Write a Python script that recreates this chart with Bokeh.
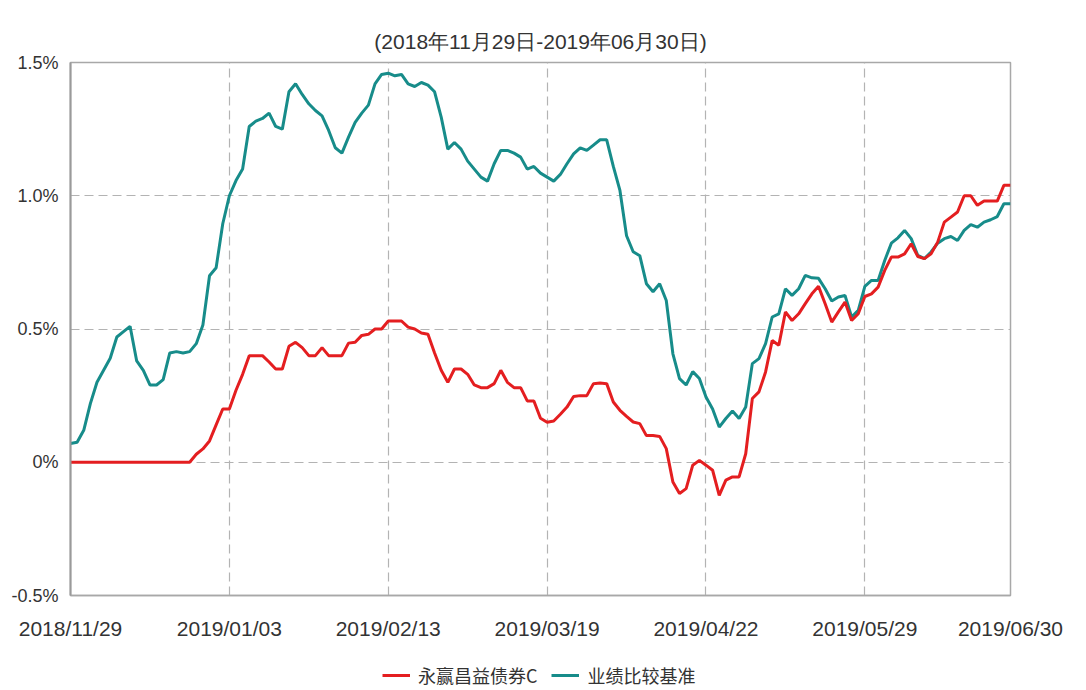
from bokeh.plotting import figure
from bokeh.layouts import column
from bokeh.models import FixedTicker, Legend, LegendItem, Range1d
from bokeh.embed import file_html
from bokeh.resources import INLINE

title_text = "(2018年11月29日-2019年06月30日)"
series_names = ["永赢昌益债券C", "业绩比较基准"]

tick_idx = [0, 24, 48, 72, 96, 120, 142]
tick_labels = ["2018/11/29", "2019/01/03", "2019/02/13", "2019/03/19",
               "2019/04/22", "2019/05/29", "2019/06/30"]

y_ticks = [-0.5, 0.0, 0.5, 1.0, 1.5]
y_tick_labels = ["-0.5%", "0%", "0.5%", "1.0%", "1.5%"]

# 永赢昌益债券C cumulative return (%)
fund = [
    0, 0, 0, 0, 0, 0, 0, 0, 0, 0,
    0, 0, 0, 0, 0, 0, 0, 0, 0, 0.03,
    0.05, 0.08, 0.14, 0.20, 0.20, 0.27, 0.33, 0.40, 0.40, 0.40,
    0.376, 0.35, 0.35, 0.435, 0.45, 0.43, 0.40, 0.40, 0.43, 0.40,
    0.40, 0.40, 0.447, 0.45, 0.476, 0.48, 0.50, 0.50, 0.53, 0.53,
    0.53, 0.507, 0.50, 0.485, 0.48, 0.41, 0.345, 0.30, 0.35, 0.35,
    0.33, 0.29, 0.28, 0.28, 0.295, 0.345, 0.30, 0.28, 0.28, 0.23,
    0.23, 0.165, 0.15, 0.155, 0.18, 0.207, 0.247, 0.25, 0.25, 0.295,
    0.297, 0.295, 0.226, 0.195, 0.172, 0.151, 0.145, 0.10, 0.10, 0.097,
    0.051, -0.074, -0.117, -0.099, -0.011, 0.007, -0.011, -0.03, -0.124, -0.067,
    -0.055, -0.055, 0.032, 0.239, 0.264, 0.339, 0.457, 0.439, 0.564, 0.532,
    0.557, 0.595, 0.632, 0.66, 0.595, 0.526, 0.564, 0.601, 0.532, 0.557,
    0.622, 0.632, 0.657, 0.72, 0.77, 0.77, 0.782, 0.82, 0.772, 0.764,
    0.782, 0.826, 0.901, 0.92, 0.939, 1.00, 1.00, 0.964, 0.98, 0.98,
    0.98, 1.039, 1.039,
]

# 业绩比较基准 cumulative return (%)
bench = [
    0.07, 0.075, 0.12, 0.22, 0.30, 0.345, 0.39, 0.47, 0.49, 0.51,
    0.38, 0.345, 0.29, 0.29, 0.31, 0.41, 0.415, 0.41, 0.415, 0.445,
    0.515, 0.70, 0.73, 0.895, 1.00, 1.057, 1.10, 1.26, 1.28, 1.29,
    1.31, 1.26, 1.25, 1.39, 1.42, 1.38, 1.345, 1.32, 1.30, 1.245,
    1.18, 1.16, 1.22, 1.275, 1.31, 1.34, 1.42, 1.455, 1.46, 1.45,
    1.455, 1.42, 1.41, 1.425, 1.415, 1.39, 1.295, 1.175, 1.20, 1.175,
    1.13, 1.10, 1.07, 1.055, 1.12, 1.17, 1.17, 1.16, 1.145, 1.10,
    1.11, 1.085, 1.07, 1.055, 1.08, 1.12, 1.157, 1.18, 1.17, 1.19,
    1.21, 1.21, 1.11, 1.02, 0.85, 0.79, 0.775, 0.67, 0.64, 0.67,
    0.607, 0.407, 0.314, 0.29, 0.34, 0.314, 0.245, 0.20, 0.132, 0.164,
    0.192, 0.164, 0.207, 0.37, 0.389, 0.445, 0.545, 0.557, 0.651, 0.626,
    0.651, 0.701, 0.692, 0.69, 0.651, 0.605, 0.62, 0.626, 0.545, 0.57,
    0.66, 0.682, 0.682, 0.757, 0.822, 0.842, 0.87, 0.839, 0.776, 0.764,
    0.789, 0.822, 0.839, 0.847, 0.832, 0.87, 0.892, 0.882, 0.901, 0.91,
    0.922, 0.97, 0.97,
]

x = list(range(len(fund)))

RED = "#e41e20"
TEAL = "#178c8a"
GRID = "#b3b3b3"
FRAME = "#a8a8a8"
TXT = "#333333"

W = 1086

p = figure(width=W, height=645, output_backend="svg", toolbar_location=None,
           x_range=Range1d(0, len(fund) - 1), y_range=Range1d(y_ticks[0], y_ticks[-1]),
           min_border_left=70, min_border_right=76, min_border_top=62,
           min_border_bottom=50)

p.title.text = title_text
p.title.align = "center"
p.title.text_font = "Liberation Sans"
p.title.text_font_size = "21px"
p.title.text_font_style = "normal"
p.title.text_color = TXT
p.title.standoff = 20

p.outline_line_color = FRAME
p.outline_line_width = 1.5
p.background_fill_color = "white"
p.border_fill_color = "white"

# axes
p.xaxis.ticker = FixedTicker(ticks=tick_idx)
p.xaxis.major_label_overrides = {t: l for t, l in zip(tick_idx, tick_labels)}
p.xaxis.major_tick_out = 0
p.xaxis.major_tick_in = 0
p.xaxis.minor_tick_out = 0
p.xaxis.minor_tick_in = 0
p.xaxis.axis_line_color = FRAME
p.xaxis.axis_line_width = 1.5
p.xaxis.major_label_standoff = 21
p.xaxis.major_label_text_font = "Liberation Sans"
p.xaxis.major_label_text_font_size = "21px"
p.xaxis.major_label_text_color = TXT

p.yaxis.ticker = FixedTicker(ticks=y_ticks)
p.yaxis.major_label_overrides = {t: l for t, l in zip(y_ticks, y_tick_labels)}
p.yaxis.major_tick_out = 0
p.yaxis.major_tick_in = 0
p.yaxis.minor_tick_out = 0
p.yaxis.minor_tick_in = 0
p.yaxis.axis_line_color = "#9a9a9a"
p.yaxis.axis_line_width = 2
p.yaxis.major_label_standoff = 12
p.yaxis.major_label_text_font = "Liberation Sans"
p.yaxis.major_label_text_font_size = "18px"
p.yaxis.major_label_text_color = TXT

p.xgrid.ticker = FixedTicker(ticks=tick_idx)
p.ygrid.ticker = FixedTicker(ticks=y_ticks)
for g in (p.xgrid, p.ygrid):
    g.grid_line_color = GRID
    g.grid_line_dash = "9 5"
    g.grid_line_width = 1.2

p.line(x, bench, line_color=TEAL, line_width=3)
p.line(x, fund, line_color=RED, line_width=3)

# legend strip below the chart (its lines lie outside its own ranges, so only
# the legend keys are visible)
lg = figure(width=W, height=45, output_backend="svg", toolbar_location=None,
            x_axis_type=None, y_axis_type=None,
            x_range=Range1d(-3, -2), y_range=Range1d(-3, -2),
            min_border_left=0, min_border_right=0, min_border_top=0,
            min_border_bottom=0)
lg.outline_line_color = None
lg.background_fill_color = "white"
lg.border_fill_color = "white"
k_fund = lg.line(x, fund, line_color=RED, line_width=3)
k_bench = lg.line(x, bench, line_color=TEAL, line_width=3)

legend = Legend(
    items=[LegendItem(label=series_names[0], renderers=[k_fund]),
           LegendItem(label=series_names[1], renderers=[k_bench])],
    orientation="horizontal", location=(312, 2),
    padding=0, margin=0, spacing=14, glyph_width=28, glyph_height=20,
    label_standoff=8, border_line_alpha=0, background_fill_alpha=0,
    label_text_font="Noto Sans CJK SC", label_text_font_size="18px",
    label_text_color=TXT,
)
lg.add_layout(legend)

layout = column(p, lg, spacing=0)

open("out.html", "w").write(file_html(layout, INLINE))
